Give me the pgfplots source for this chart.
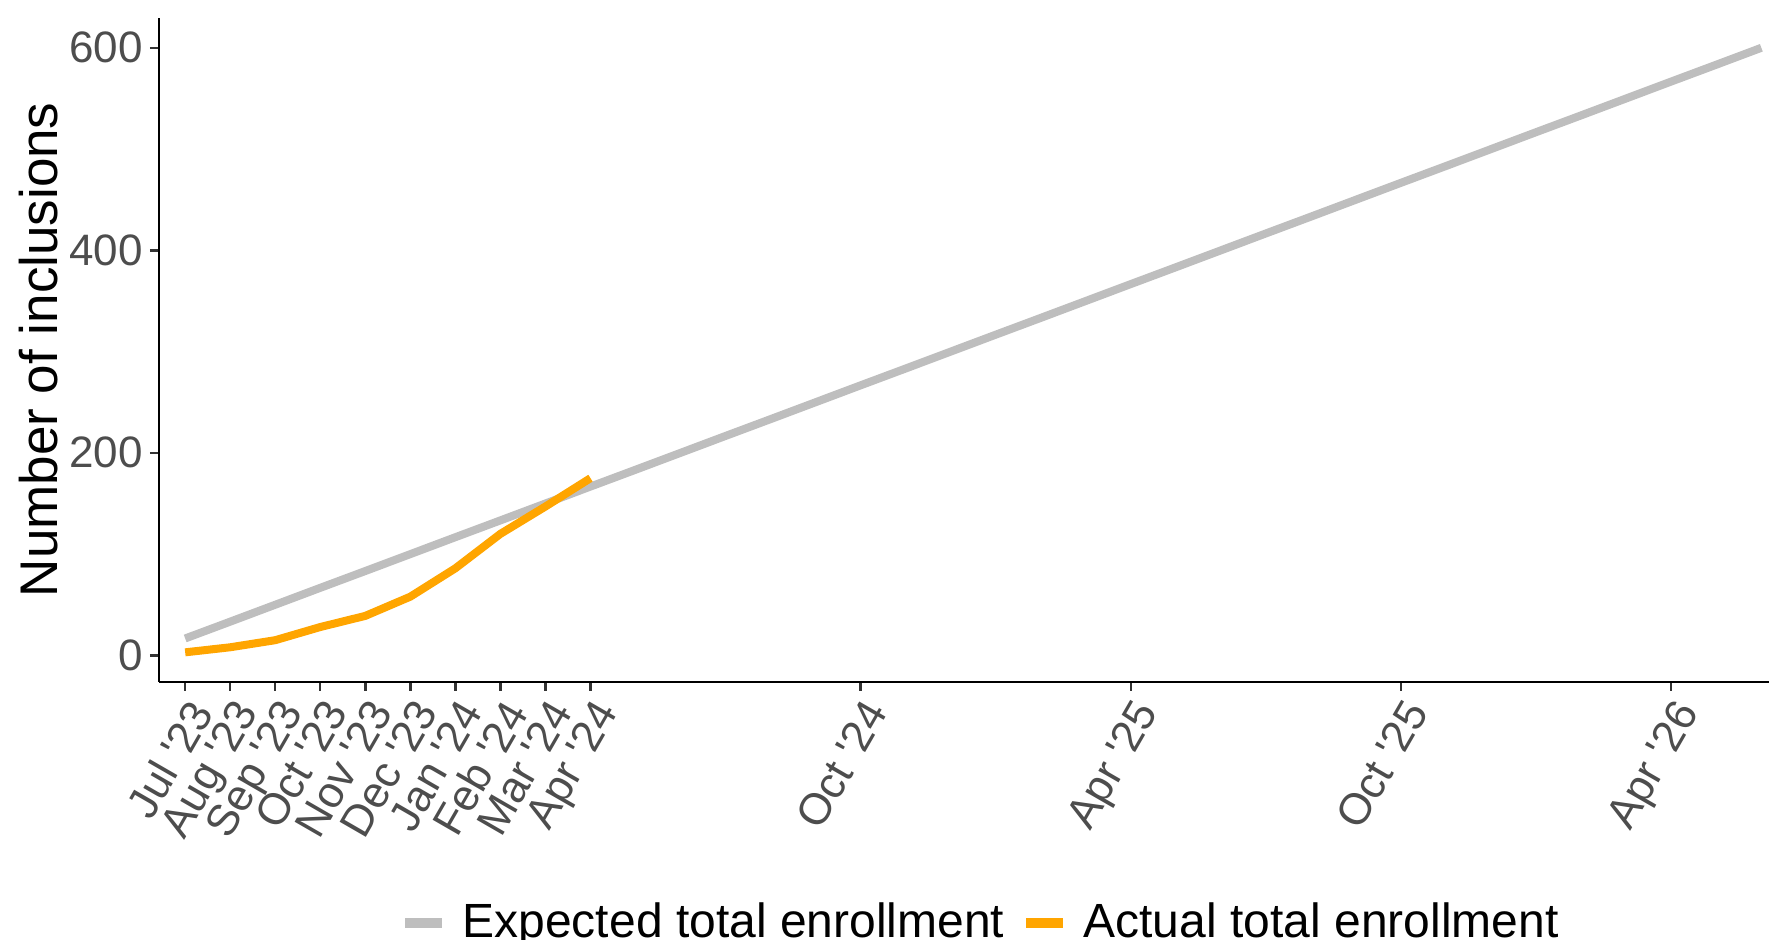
\documentclass[border=0pt]{standalone}
\usepackage{fontspec}
\setmainfont{Liberation Sans}
\usepackage{pgfplots}
\pgfplotsset{compat=1.18}
\definecolor{expgray}{HTML}{BEBEBE}
\definecolor{actorange}{HTML}{FFA500}
\definecolor{ticktext}{HTML}{4D4D4D}
\begin{document}
\begin{tikzpicture}
\begin{axis}[
  at={(0,0)}, anchor=south west,
  scale only axis, width=402.55pt, height=165.95pt,
  xmin=-0.586, xmax=35.17, ymin=-26, ymax=629.5,
  axis lines=left, axis line style={-, line width=0.6pt},
  tick align=outside, major tick length=2.2pt,
  tick style={line width=0.6pt, color=black!80},
  xtick={0,1,2,3,4,5,6,7,8,9,15,21,27,33},
  xticklabels={Jul \textquotesingle23, Aug \textquotesingle23, Sep \textquotesingle23, Oct \textquotesingle23, Nov \textquotesingle23, Dec \textquotesingle23, Jan \textquotesingle24, Feb \textquotesingle24, Mar \textquotesingle24, Apr \textquotesingle24, Oct \textquotesingle24, Apr \textquotesingle25, Oct \textquotesingle25, Apr \textquotesingle26},
  ytick={0,200,400,600},
  /pgf/number format/assume math mode=true,
  tick label style={font=\fontsize{11}{13}\selectfont, text=ticktext},
  xticklabel style={rotate=60, anchor=north east, inner sep=1pt},
  yticklabel style={inner sep=1.6pt},
  ylabel={Number of inclusions},
  every axis y label/.style={at={(axis description cs:-0.063,0.5)}, rotate=90, anchor=base, font=\fontsize{13.25}{15}\selectfont},
  legend columns=2,
  legend style={at={(axis description cs:0.1498,-0.3635)}, anchor=west, draw=none, fill=none,
    font=\fontsize{12}{14}\selectfont, inner sep=0pt, nodes={inner sep=0pt},
    /tikz/every odd column/.append style={column sep=3.9pt},
    /tikz/every even column/.append style={column sep=4.4pt}},
  legend image code/.code={\draw[#1, line width=2.3pt] (0pt,0pt) -- (9.25pt,0pt);},
]
% expected enrollment (linear target)
\addplot[expgray, line width=2pt] coordinates {
(0,16.7) (1,33.3) (2,50) (3,66.7) (4,83.3) (5,100) (6,116.7) (7,133.3) (8,150) (9,166.7)
(10,183.3) (11,200) (12,216.7) (13,233.3) (14,250) (15,266.7) (16,283.3) (17,300)
(18,316.7) (19,333.3) (20,350) (21,366.7) (22,383.3) (23,400) (24,416.7) (25,433.3)
(26,450) (27,466.7) (28,483.3) (29,500) (30,516.7) (31,533.3) (32,550) (33,566.7)
(34,583.3) (35,600)
};
\addlegendentry{Expected total enrollment}
% actual enrollment
\addplot[actorange, line width=2pt] coordinates {
(0,3) (1,8) (2,15) (3,28) (4,39) (5,58) (6,86) (7,120) (8,147) (9,175)
};
\addlegendentry{Actual total enrollment}
\end{axis}
\pgfresetboundingbox
\useasboundingbox (-39.7pt,-64.33pt) rectangle (402.55pt,170.43pt);
\end{tikzpicture}
\end{document}
